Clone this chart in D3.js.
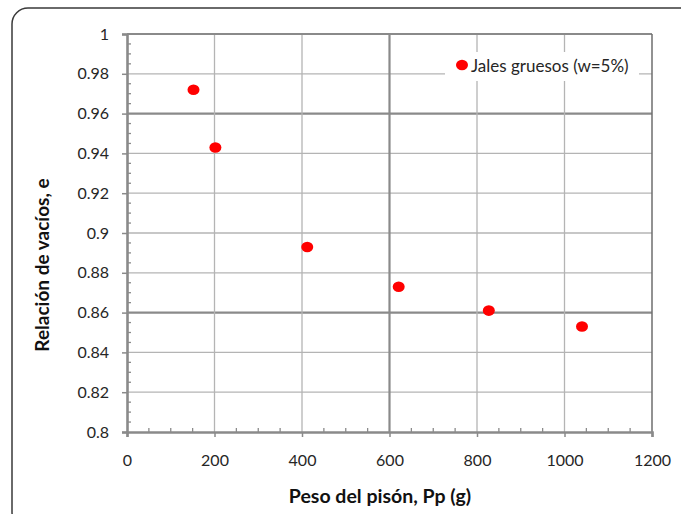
<!DOCTYPE html>
<html>
<head>
<meta charset="utf-8">
<script src="https://cdn.jsdelivr.net/npm/d3@7"></script>
<style>
  body { margin: 0; background: #fff; }
  svg text { font-family: Lato, "Open Sans", sans-serif; fill: #262626; }
</style>
</head>
<body>
<svg id="chart" width="681" height="514"></svg>
<script>
// data
var pesos = [152, 202, 412, 621, 827, 1040];
var relacion = [0.972, 0.943, 0.893, 0.873, 0.861, 0.853];
var xTicks = [0, 200, 400, 600, 800, 1000, 1200];
var yTicks = [0.8, 0.82, 0.84, 0.86, 0.88, 0.9, 0.92, 0.94, 0.96, 0.98, 1];
var serieNombre = "Jales gruesos (w=5%)";

var svg = d3.select("#chart");
var mLeft = 127, mRight = 652, mTop = 34, mBottom = 432;

var x = d3.scaleLinear().domain([0, 1200]).range([mLeft, mRight]);
var y = d3.scaleLinear().domain([0.8, 1]).range([mBottom, mTop]);

// outer frame (runs off the right and bottom edge)
svg.append("rect")
    .attr("x", 12).attr("y", 8)
    .attr("width", 690).attr("height", 520)
    .attr("rx", 16)
    .style("fill", "none")
    .style("stroke", "#3a3a3a")
    .style("stroke-width", 1.5);

// gridlines, a few drawn heavier like in the original
var gridY = svg.append("g");
yTicks.slice(1, -1).forEach(function (v) {
    var heavy = (v === 0.96 || v === 0.86);
    gridY.append("line")
        .attr("x1", mLeft).attr("x2", mRight)
        .attr("y1", y(v)).attr("y2", y(v))
        .style("stroke", heavy ? "#8a8a8a" : "#b4b4b4")
        .style("stroke-width", heavy ? 2.2 : 1.3);
});
var gridX = svg.append("g");
xTicks.slice(1, -1).forEach(function (v) {
    var heavy = (v === 600);
    gridX.append("line")
        .attr("x1", x(v)).attr("x2", x(v))
        .attr("y1", mTop).attr("y2", mBottom)
        .style("stroke", heavy ? "#8a8a8a" : "#b4b4b4")
        .style("stroke-width", heavy ? 2.2 : 1.3);
});

// plot border top/right
svg.append("line").attr("x1", mLeft).attr("x2", mRight).attr("y1", mTop).attr("y2", mTop)
    .style("stroke", "#8a8a8a").style("stroke-width", 2);
svg.append("line").attr("x1", mRight).attr("x2", mRight).attr("y1", mTop).attr("y2", mBottom)
    .style("stroke", "#6e6e6e").style("stroke-width", 1.5);

// minor ticks (inside)
var minorY = d3.range(161, 200).filter(function (k) { return k % 4 !== 0; })
    .map(function (k) { return k / 200; });
svg.append("g").selectAll("line").data(minorY).enter().append("line")
    .attr("x1", mLeft).attr("x2", mLeft + 4)
    .attr("y1", function (d) { return y(d); }).attr("y2", function (d) { return y(d); })
    .style("stroke", "#8a8a8a").style("stroke-width", 1.3);
var minorX = d3.range(50, 1200, 50).filter(function (v) { return v % 200 !== 0; });
svg.append("g").selectAll("line").data(minorX).enter().append("line")
    .attr("x1", function (d) { return x(d); }).attr("x2", function (d) { return x(d); })
    .attr("y1", mBottom).attr("y2", mBottom - 4)
    .style("stroke", "#8a8a8a").style("stroke-width", 1.3);

// axes
var yAxis = svg.append("g")
    .attr("transform", "translate(" + mLeft + ",0)")
    .call(d3.axisLeft(y).tickValues(yTicks).tickSize(5).tickPadding(13)
        .tickFormat(function (d) { return String(+d.toFixed(2)); }));
var xAxis = svg.append("g")
    .attr("transform", "translate(0," + mBottom + ")")
    .call(d3.axisBottom(x).tickValues(xTicks).tickSize(5).tickPadding(18)
        .tickFormat(function (d) { return String(d); }));
[yAxis, xAxis].forEach(function (a) {
    a.select(".domain").style("stroke", "#8a8a8a").style("stroke-width", 2.6);
    a.selectAll(".tick line").style("stroke", "#8a8a8a").style("stroke-width", 1.5);
    a.selectAll(".tick text").style("font-size", "16px").style("fill", "#262626");
});

// points
svg.append("g").selectAll("ellipse")
    .data(pesos.map(function (p, i) { return [p, relacion[i]]; }))
    .enter().append("ellipse")
    .attr("cx", function (d) { return x(d[0]); })
    .attr("cy", function (d) { return y(d[1]); })
    .attr("rx", 6).attr("ry", 5.3)
    .style("fill", "#ff0000");

// legend
var lg = svg.append("g");
lg.append("rect").attr("x", 445).attr("y", 52).attr("width", 194).attr("height", 29)
    .style("fill", "#fff");
lg.append("ellipse").attr("cx", 462).attr("cy", 65).attr("rx", 6).attr("ry", 5.3)
    .style("fill", "#ff0000");
lg.append("text").attr("x", 471).attr("y", 71.5)
    .style("font-size", "17px")
    .text(serieNombre);

// axis titles
svg.append("text")
    .attr("x", 380).attr("y", 503)
    .attr("text-anchor", "middle")
    .style("font-size", "19.5px").style("font-weight", "bold")
    .style("fill", "#111")
    .text("Peso del pisón, Pp (g)");
svg.append("text")
    .attr("text-anchor", "middle")
    .attr("transform", "translate(49,265)rotate(-90)")
    .style("font-size", "19px").style("font-weight", "bold")
    .style("fill", "#111")
    .text("Relación de vacíos, e");
</script>
</body>
</html>
